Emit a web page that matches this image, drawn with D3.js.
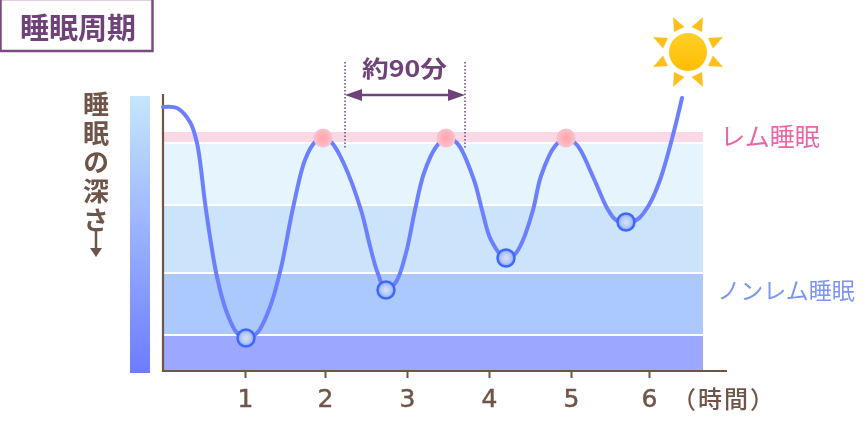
<!DOCTYPE html>
<html><head><meta charset="utf-8">
<script src="https://cdn.jsdelivr.net/npm/d3@7"></script>
<style>html,body{margin:0;padding:0;background:#fff}svg{display:block;filter:blur(0.5px)}text{font-family:"Noto Sans CJK JP","Noto Sans",sans-serif}</style>
</head><body><div id="c"></div>
<script>
// time-axis positions of the hour ticks and their labels
const tickTimes = [82,162,244,326,408,486];
const tickLabels = ["1","2","3","4","5","6"];
// sleep depth bands (lower = deeper)
const bandLow  = [0,37,99,167,229];
const bandHigh = [35,97,165,227,239];
const bandColors = ["#9ca8ff","#abc9fc","#cbe3fb","#e6f4fe","#f9d9e6"];
// sleep curve
const curveT = [0,14,27,34,43,54,64,74,83,94,107,118,130,142,152,160,169,181,198,207,214,223,233,243,252,261,273,283,294,311,319,328,342,352,360,370,378,392,403,414,431,444,453,463,475,486,497,510,519];
const curveD = [264,263,249,228,161,94,58,38,33,38,64,103,163,211,229,233,228,207,161,125,100,81,89,118,161,198,224,233,228,191,161,131,113,117,131,161,195,225,233,226,192,163,151,149,152,166,191,236,273];
const remTimes = [160,283,403];
const remDepth = [233,233,233];
const deepTimes = [83,223,343,463];
const deepDepth = [33,81,113,149];
// annotation
const spanTimes = [182,302];
const spanLabel = "約90分";
const title = "睡眠周期";
const depthLabel = "睡眠の深さ";
const remLabel = "レム睡眠";
const nonRemLabel = "ノンレム睡眠";
const unitLabel = "（時間）";
const rayFlips = [[1,1,0],[-1,1,0],[1,-1,0],[-1,-1,0],[1,1,1],[-1,1,1],[1,-1,1],[-1,-1,1]];
const rayShape = [[-15,-35],[-3.5,-25],[-14,-20]];

const W=868,H=422;
const svg=d3.select("#c").append("svg").attr("width",W).attr("height",H).attr("viewBox",`0 0 ${W} ${H}`);
const defs=svg.append("defs");
const x=d3.scaleLinear().domain([0,540]).range([163,703]);
const y=d3.scaleLinear().domain([0,280]).range([371,91]);
function grad(id,stops,radial){
  const g=defs.append(radial?"radialGradient":"linearGradient").attr("id",id);
  if(!radial) g.attr("x1",0).attr("x2",0).attr("y1",0).attr("y2",1);
  stops.forEach(s=>g.append("stop").attr("offset",s[0]).attr("stop-color",s[1]));
}
grad("bar",[[0,"#c6e6fb"],[1,"#6c7cff"]]);
grad("sun",[[0,"#ffd02a"],[1,"#ffbc00"]]);
grad("blue",[[0,"#d8e2f8"],[.6,"#b4c8f8"],[1,"#7f9cf6"]],true);
grad("pink",[[0,"#ffa5ae"],[1,"#ffbcc4"]],true);

// title box
svg.append("rect").attr("x",0.5).attr("y",-1).attr("width",152).attr("height",52).attr("fill","#fff").attr("stroke","#7b4a82").attr("stroke-width",2.5);
svg.append("text").attr("x",78).attr("y",39).attr("text-anchor","middle").attr("font-size",29).attr("font-weight",700).attr("fill","#6f4379").text(title);

// depth bar + label
svg.append("rect").attr("x",130).attr("y",96).attr("width",20).attr("height",277).attr("fill","url(#bar)");
svg.append("text").attr("x",96).attr("y",91).style("writing-mode","vertical-rl").style("letter-spacing","3px")
  .attr("fill","#6f5548").attr("font-size",26).attr("font-weight",700).text(depthLabel);
svg.append("path").attr("d",d3.line()([[96,231],[96,250]])).attr("stroke","#6f5548").attr("stroke-width",2.5).attr("fill","none");
svg.append("path").attr("d",d3.line()([[90,248],[96,257],[102,248]])+"Z").attr("fill","#6f5548");

// bands
svg.selectAll("rect.band").data(bandLow).enter().append("rect").attr("class","band")
  .attr("x",x(0)).attr("width",x(540)-x(0))
  .attr("y",(d,i)=>y(bandHigh[i])).attr("height",(d,i)=>y(d)-y(bandHigh[i]))
  .attr("fill",(d,i)=>bandColors[i]);

// axes
const ax=d3.axisBottom(x).tickValues(tickTimes).tickFormat((d,i)=>tickLabels[i]).tickSize(7).tickPadding(11);
const gx=svg.append("g").attr("transform",`translate(0,${y(0)})`).call(ax);
gx.select(".domain").remove();
gx.selectAll("line").attr("stroke","#6f5548").attr("stroke-width",2);
gx.selectAll("text").attr("fill","#6f5548").attr("font-size",25).style("font-family","'DejaVu Sans'").attr("stroke","#6f5548").attr("stroke-width",0.5);
svg.append("path").attr("d",d3.line()([[x(0),y(277)],[x(0),y(0)],[x(564),y(0)]])).attr("fill","none").attr("stroke","#6f5548").attr("stroke-width",2.2);
svg.append("text").attr("x",724).attr("y",408).attr("text-anchor","middle").attr("font-size",24).style("letter-spacing","2px").attr("font-weight",500).attr("fill","#6f5548").text(unitLabel);

// curve
const line=d3.line().x(d=>x(d)).y((d,i)=>y(curveD[i])).curve(d3.curveCatmullRom);
svg.append("path").attr("d",line(curveT)).attr("fill","none").attr("stroke","#6c80ff").attr("stroke-width",4).attr("stroke-linecap","round");

// markers
svg.selectAll("circle.rem").data(remTimes).enter().append("circle").attr("class","rem")
  .attr("cx",d=>x(d)).attr("cy",(d,i)=>y(remDepth[i])).attr("r",8.5)
  .attr("fill","url(#pink)").attr("stroke","#f7c0d0").attr("stroke-width",2);
svg.selectAll("circle.deep").data(deepTimes).enter().append("circle").attr("class","deep")
  .attr("cx",d=>x(d)).attr("cy",(d,i)=>y(deepDepth[i])).attr("r",8.5)
  .attr("fill","url(#blue)").attr("stroke","#3c68fb").attr("stroke-width",2.5);

// 90 min annotation
const pc="#6f4379";
spanTimes.forEach(t=>svg.append("line").attr("x1",x(t)).attr("x2",x(t)).attr("y1",y(309)).attr("y2",y(223)).attr("stroke",pc).attr("stroke-width",1.5).attr("stroke-dasharray","1.5 2"));
svg.append("line").attr("x1",x(spanTimes[0])+8).attr("x2",x(spanTimes[1])-8).attr("y1",95).attr("y2",95).attr("stroke",pc).attr("stroke-width",2.5);
[[0,1],[1,-1]].forEach(([k,s])=>{const a=x(spanTimes[k]);
  svg.append("path").attr("d",d3.line()([[a,95],[a+s*17,89],[a+s*17,101]])+"Z").attr("fill",pc);});
svg.append("text").attr("x",(x(spanTimes[0])+x(spanTimes[1]))/2-0.5).attr("y",77).attr("text-anchor","middle").attr("font-size",23).attr("font-weight",700).attr("fill",pc)
  .attr("textLength",85).attr("lengthAdjust","spacingAndGlyphs").text(spanLabel);

// labels
svg.append("text").attr("x",770).attr("y",146).attr("text-anchor","middle").attr("font-size",25).attr("fill","#ea66a4").text(remLabel);
svg.append("text").attr("x",786).attr("y",299).attr("text-anchor","middle").attr("font-size",23).attr("fill","#7c96f0").text(nonRemLabel);

// sun
const sun=svg.append("g").attr("transform","translate(688,52)");
rayFlips.forEach(([a,b,sw])=>sun.append("path").attr("fill","#ffc01f")
  .attr("d",d3.line()(rayShape.map(([p,q])=>sw?[a*q,b*p]:[a*p,b*q]))+"Z"));
sun.append("circle").attr("r",19).attr("fill","url(#sun)");
</script></body></html>
